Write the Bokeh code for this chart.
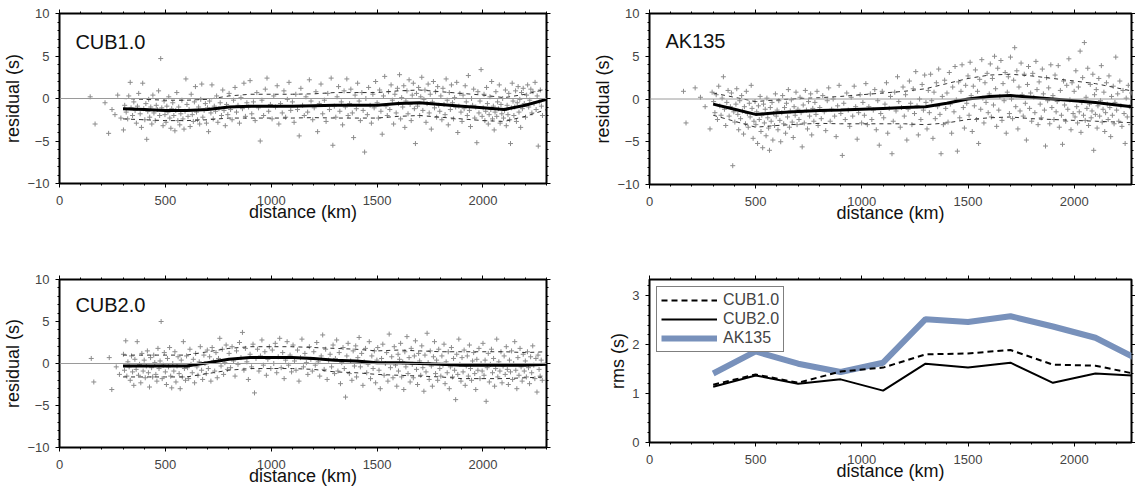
from bokeh.plotting import figure
from bokeh.models import (Range1d, LinearAxis, SingleIntervalTicker, Span, Label,
                          Legend, LegendItem)
from bokeh.layouts import column, row
from bokeh.embed import file_html
from bokeh.resources import INLINE

# ---------------- data ----------------
node_km = [300, 400, 500, 600, 700, 800, 900, 1000, 1100, 1200, 1300,
           1400, 1500, 1600, 1700, 1800, 1900, 2000, 2100, 2200, 2300]

cub1_mean = [-1.2, -1.3, -1.4, -1.4, -1.3, -1.0, -0.9, -0.9, -0.9, -0.85, -0.8,
             -0.8, -0.8, -0.6, -0.5, -0.7, -0.9, -1.1, -1.3, -0.8, -0.1]
cub1_std = [1.2, 1.2, 1.2, 1.2, 1.2, 1.3, 1.4, 1.4, 1.4, 1.4, 1.5,
            1.5, 1.5, 1.5, 1.5, 1.5, 1.5, 1.5, 1.4, 1.3, 1.2]

ak135_mean = [-0.6, -1.2, -1.8, -1.6, -1.45, -1.35, -1.3, -1.2, -1.1, -1.0, -0.9,
              -0.5, 0.0, 0.3, 0.4, 0.2, 0.0, -0.2, -0.4, -0.7, -1.0]
ak135_std = [1.3, 1.4, 1.5, 1.5, 1.5, 1.5, 1.6, 1.7, 1.8, 1.9, 2.1,
             2.3, 2.4, 2.5, 2.5, 2.5, 2.4, 2.3, 2.2, 2.0, 1.8]

cub2_mean = [-0.3, -0.3, -0.3, -0.3, 0.1, 0.5, 0.7, 0.7, 0.7, 0.6, 0.4,
             0.3, 0.1, 0.1, 0.0, -0.1, -0.2, -0.2, -0.2, -0.2, -0.1]
cub2_std = [1.3, 1.3, 1.3, 1.3, 1.3, 1.3, 1.3, 1.3, 1.3, 1.3, 1.4,
            1.4, 1.4, 1.5, 1.5, 1.5, 1.6, 1.6, 1.6, 1.5, 1.5]

rms_km = [300, 500, 700, 900, 1100, 1300, 1500, 1700, 1900, 2100, 2300]
rms_cub1 = [1.18, 1.39, 1.22, 1.45, 1.53, 1.80, 1.82, 1.89, 1.59, 1.57, 1.39]
rms_cub2 = [1.14, 1.37, 1.20, 1.29, 1.06, 1.61, 1.53, 1.63, 1.22, 1.41, 1.36]
rms_ak135 = [1.41, 1.86, 1.61, 1.44, 1.63, 2.52, 2.46, 2.58, 2.37, 2.14, 1.70]

x_ticks_step = 500
model_names = ["CUB1.0", "AK135", "CUB2.0"]

cub1_points = [
    (145, 0.2), (168, -3.0), (215, -0.5), (232, -4.1), (248, -1.3), (262, -1.9), (275, 0.4), (290, -2.3),
    (302, -3.7), (308, -0.8), (315, -1.6), (322, -2.4), (327, 0.3), (334, 1.9), (338, -1.1), (345, -2.0),
    (351, -0.4), (357, -1.4), (363, -2.9), (368, -0.9), (374, 0.6), (381, -1.8), (387, -3.4), (393, 1.8), (398, -1.2),
    (403, -2.5), (408, -0.6), (412, -4.8), (417, -1.5), (421, -0.1), (426, -2.2), (431, -1.0), (436, -3.0),
    (441, 0.4), (446, -1.7), (452, -2.6), (457, -0.8), (462, -1.3), (468, 0.9), (473, -2.0), (478, 4.7),
    (483, -1.1), (489, -3.2), (494, -0.3), (498, -1.9),
    (503, -2.8), (507, -0.9), (512, -1.6), (516, 0.2), (521, -2.3), (526, -3.5), (530, -1.2), (535, -0.5),
    (540, -2.0), (545, -3.8), (549, -1.4), (554, 0.7), (559, -2.6), (563, -1.0), (568, -3.1), (573, -1.8),
    (578, -0.2), (583, -2.4), (588, -3.6), (593, -1.5), (597, 2.3),
    (602, -0.7), (607, -2.1), (612, -1.3), (617, -3.3), (622, 0.5), (627, -1.9), (632, -2.7), (637, -0.4),
    (642, 1.4), (647, -1.6), (652, -2.5), (657, -1.0), (662, -3.0), (667, -0.1), (672, 1.7), (677, -2.2),
    (683, -1.4), (689, -0.6), (694, -2.9), (699, -1.1),
    (704, -3.9), (709, -0.3), (715, -1.7), (720, 1.6), (726, -2.4), (731, -0.9), (737, -1.5), (742, 0.3),
    (748, -2.8), (753, -1.2), (759, -0.5), (765, -2.0), (771, 1.0), (777, -1.4), (783, -3.2), (789, -0.7), (795, -1.9),
    (801, 0.6), (808, -1.3), (815, -2.5), (822, -0.2), (829, 1.3), (836, -1.6), (843, -0.8), (850, -2.9),
    (857, 0.1), (864, -1.2), (871, 1.8), (878, -2.1), (885, -0.5), (893, -1.0),
    (900, 2.1), (908, -1.8), (916, -0.4), (924, -2.6), (932, 0.7), (940, -1.1), (948, -5.0), (956, -0.2),
    (964, -2.0), (972, 1.1), (980, 2.4), (988, -1.5), (996, -0.7),
    (1004, -2.4), (1012, 0.3), (1020, -1.0), (1028, 1.5), (1036, -3.0), (1044, -0.6), (1052, -1.7), (1060, 0.9),
    (1068, -2.2), (1076, -0.1), (1084, 1.9), (1092, -1.4),
    (1100, -0.4), (1108, -2.8), (1116, 0.5), (1124, -1.3), (1132, -4.4), (1140, 1.2), (1148, -0.8), (1156, -2.0),
    (1164, 0.2), (1172, -1.6), (1180, 2.2), (1188, -0.3), (1196, -2.5),
    (1203, -1.1), (1211, 0.8), (1219, -3.9), (1227, -0.6), (1235, 1.7), (1243, -1.8), (1251, -0.2), (1259, -2.7),
    (1267, 0.6), (1275, -1.3), (1283, 2.4), (1291, -5.5), (1298, -0.9),
    (1305, -2.2), (1311, 0.2), (1318, 1.4), (1324, -1.5), (1331, -0.4), (1337, -3.1), (1344, 0.9), (1350, -1.0),
    (1357, 2.3), (1363, -2.0), (1370, -0.6), (1376, 1.1), (1383, -1.7), (1389, -4.6), (1396, 0.4),
    (1402, -1.2), (1408, 1.8), (1415, -0.3), (1421, -2.6), (1428, 0.7), (1434, -1.4), (1441, -6.3), (1447, 0.0),
    (1454, -1.9), (1460, 1.3), (1467, -0.8), (1473, -2.9), (1480, 0.5), (1486, -1.1), (1493, 2.0),
    (1500, -0.5), (1506, -2.3), (1512, 1.0), (1518, -1.5), (1524, -4.2), (1530, 0.3), (1536, 2.6), (1542, -0.9),
    (1548, -2.0), (1554, 0.8), (1560, -1.3), (1566, 1.6), (1572, -0.2), (1578, -3.0), (1584, 0.5), (1590, -1.7), (1596, 1.2),
    (1601, -0.6), (1606, 2.8), (1611, -2.4), (1616, 0.1), (1621, -1.0), (1626, 1.5), (1631, -3.4), (1636, -0.3),
    (1641, 0.9), (1646, -1.8), (1651, 2.2), (1656, -0.7), (1661, -2.6), (1666, 0.4), (1671, 1.8), (1676, -1.2),
    (1681, -5.3), (1686, 0.6), (1691, -0.9), (1696, 1.3),
    (1701, -2.0), (1706, 0.2), (1711, 2.5), (1716, -1.4), (1721, -0.1), (1726, 1.0), (1731, -2.8), (1736, -0.6),
    (1741, 1.7), (1746, -1.7), (1751, 0.5), (1756, -3.6), (1761, -0.4), (1766, 2.0), (1771, -1.1), (1776, 0.8),
    (1781, -2.2), (1786, 1.4), (1791, -0.8), (1796, -1.5),
    (1801, 0.3), (1806, -2.5), (1811, 1.2), (1816, -0.7), (1821, -1.9), (1826, 2.3), (1831, -0.2), (1836, -3.1),
    (1841, 0.7), (1846, -1.3), (1851, 1.6), (1856, -0.5), (1861, -2.4), (1866, 0.1), (1871, -1.0), (1876, 1.9),
    (1881, -4.0), (1886, -0.9), (1891, 0.6), (1896, -1.6),
    (1901, -2.7), (1906, 0.4), (1911, -1.2), (1916, 1.5), (1921, -0.4), (1926, -2.0), (1931, 2.7), (1936, -1.4),
    (1941, -3.3), (1946, 0.0), (1951, -0.8), (1956, 1.1), (1961, -2.3), (1966, -1.0), (1971, -5.2), (1976, 0.8),
    (1981, -1.7), (1986, -0.3), (1991, 3.4), (1996, -2.1),
    (2001, -1.1), (2005, 0.5), (2009, -2.6), (2013, -1.5), (2017, 1.3), (2021, -0.6), (2025, -3.0), (2029, -1.9),
    (2033, 0.2), (2037, -1.3), (2041, 2.0), (2045, -2.4), (2049, -0.9), (2053, -3.7), (2057, -1.6), (2061, 0.8),
    (2065, -2.1), (2069, -0.4), (2073, -1.2), (2077, 1.6), (2081, -2.9), (2085, -0.7), (2089, -1.8), (2093, 0.0), (2097, -2.3),
    (2102, -1.4), (2106, 1.0), (2110, -3.2), (2114, -0.8), (2118, -1.9), (2122, 0.6), (2126, -2.5), (2130, -5.3),
    (2134, -1.1), (2138, 1.8), (2142, -0.3), (2146, -2.0), (2150, -1.0), (2154, 0.9), (2158, -2.7), (2162, -0.5),
    (2166, 1.4), (2170, -1.6), (2174, -0.1), (2178, -3.4), (2182, 0.7), (2186, -1.2), (2190, 1.2), (2195, -0.6),
    (2201, -2.2), (2206, 0.4), (2211, 1.6), (2216, -1.0), (2221, -0.2), (2226, 1.1), (2231, -1.7), (2236, 0.8),
    (2241, -0.6), (2246, 1.9), (2251, -1.3), (2256, 0.3), (2261, -5.6), (2266, -0.4), (2271, 1.0), (2276, -0.9), (2281, -2.0),
]

ak135_points = [
    (160, 0.9), (172, -2.8), (215, 1.3), (240, 0.2), (262, -0.9), (285, -3.5), (295, 0.8),
    (302, -0.3), (308, -1.6), (314, 0.5), (320, -2.4), (326, 1.5), (331, -0.8), (337, -1.9), (342, 0.1),
    (348, 2.6), (353, -1.2), (359, -3.1), (364, -0.4), (370, 1.0), (375, -2.0), (381, -0.9), (386, 0.7),
    (392, -7.8), (397, -1.5),
    (402, -2.7), (407, -0.6), (411, 1.2), (416, -1.8), (420, -3.6), (425, -0.2), (429, -2.3), (434, 0.4),
    (438, -1.4), (443, -4.1), (447, -0.9), (452, -2.9), (456, 0.9), (461, -1.7), (465, -3.3), (470, -0.5),
    (474, -2.1), (479, 1.6), (483, -1.1), (488, -4.6), (492, -2.6), (497, -0.3),
    (501, -3.0), (505, -1.5), (509, -5.2), (513, -0.8), (517, -2.4), (521, 0.3), (525, -3.8), (529, -1.9),
    (533, -5.7), (537, -0.6), (541, -2.8), (545, -1.2), (549, -4.3), (553, 0.1), (557, -2.2), (561, -3.4),
    (565, -6.0), (569, -1.0), (573, -2.6), (577, -0.4), (581, -4.8), (585, -1.7), (589, -3.1), (593, 0.6), (597, -2.0),
    (601, -1.3), (605, -3.6), (609, -0.2), (614, -2.5), (618, -5.0), (623, -1.6), (627, 0.4), (632, -2.9),
    (636, -1.0), (641, -4.0), (645, -0.5), (650, -2.1), (654, 1.1), (659, -3.3), (663, -1.4), (668, -0.1),
    (672, -2.7), (677, -4.5), (681, -0.9), (686, -1.9), (690, 0.8), (695, -3.0), (699, -1.2),
    (704, -2.4), (709, 0.2), (714, -1.6), (719, -5.6), (724, -0.7), (729, -2.8), (734, 1.0), (739, -1.3),
    (744, -3.5), (749, -0.3), (754, -2.0), (759, 0.6), (764, -4.2), (769, -1.1), (774, -2.6), (779, -0.4),
    (784, -1.8), (789, 0.9), (794, -3.1),
    (802, -1.0), (809, -2.3), (816, 0.4), (823, -1.5), (830, -3.7), (837, -0.2), (844, 1.3), (851, -2.6),
    (858, -1.2), (865, 0.0), (872, -2.0), (879, -4.4), (886, -0.8), (893, 1.6),
    (901, -1.7), (908, -6.6), (915, -0.5), (922, -2.4), (929, 0.7), (936, -1.3), (943, -3.2), (950, 0.2),
    (957, -2.0), (964, 1.5), (971, -0.9), (978, -4.7), (985, -1.6), (992, 0.5), (999, -2.8),
    (1005, -0.4), (1012, -1.9), (1019, 1.8), (1026, -3.0), (1033, -0.9), (1040, 0.6), (1047, -2.4), (1054, -1.3),
    (1061, 1.1), (1068, -3.6), (1075, -0.2), (1082, -5.4), (1089, -1.7), (1096, 0.9),
    (1103, -2.2), (1109, -0.6), (1116, 1.9), (1122, -4.0), (1129, -1.1), (1135, 0.3), (1142, -6.4), (1148, -2.6),
    (1155, 0.8), (1161, -1.4), (1168, 2.6), (1174, -0.3), (1181, -3.3), (1187, -1.0), (1194, 1.4),
    (1200, -2.0), (1206, 0.5), (1212, -4.8), (1218, -1.2), (1224, 2.1), (1230, -0.5), (1236, -3.0), (1242, 1.2),
    (1248, -1.7), (1254, 3.2), (1260, -0.8), (1266, -4.2), (1272, 0.0), (1278, -2.4), (1284, 1.7), (1290, -1.3), (1296, 2.8),
    (1302, -0.4), (1307, -3.5), (1313, 1.0), (1318, -1.6), (1324, 2.9), (1329, -0.2), (1335, -4.6), (1340, 0.8),
    (1346, -2.3), (1351, 1.9), (1357, -0.9), (1362, 3.5), (1368, -1.8), (1373, -6.4), (1379, 0.3), (1384, -3.0),
    (1390, 2.2), (1395, -1.1),
    (1401, 0.7), (1406, -2.7), (1412, 3.1), (1417, -0.6), (1423, -4.0), (1428, 1.4), (1434, -1.5), (1439, 3.8),
    (1445, -0.1), (1450, -6.1), (1456, 2.0), (1461, -2.2), (1467, 0.9), (1472, 4.0), (1478, -1.0), (1483, -3.4),
    (1489, 1.6), (1494, -0.5),
    (1500, 2.7), (1505, -1.9), (1510, 4.3), (1515, 0.4), (1520, -3.8), (1525, 1.5), (1530, -0.8), (1535, 3.4),
    (1540, -2.4), (1545, 0.9), (1550, -5.2), (1555, 2.3), (1560, -1.2), (1565, 4.6), (1570, 0.1), (1575, -2.8),
    (1580, 1.9), (1585, -0.4), (1590, 3.0), (1595, -1.6),
    (1600, 0.6), (1605, 4.1), (1610, -2.1), (1615, 2.4), (1620, -0.7), (1625, 5.0), (1630, 1.2), (1635, -3.2),
    (1640, 3.6), (1645, -1.3), (1650, 0.3), (1655, 4.5), (1660, -2.5), (1665, 1.8), (1670, -0.2), (1675, 3.1),
    (1680, -4.0), (1685, 0.8), (1690, 2.6), (1695, -1.7),
    (1700, 4.9), (1705, 0.0), (1710, -2.3), (1715, 2.2), (1720, 6.0), (1725, -0.9), (1730, 3.3), (1735, -3.5),
    (1740, 1.4), (1745, -1.4), (1750, 4.2), (1755, 0.5), (1760, -2.0), (1765, 2.9), (1770, -0.5), (1775, -4.8),
    (1780, 1.7), (1785, 3.8), (1790, -1.1), (1795, 0.7),
    (1800, -2.6), (1805, 3.0), (1810, 0.2), (1815, -1.6), (1820, 4.4), (1825, 1.1), (1830, -3.0), (1835, 2.0),
    (1840, -0.6), (1845, -2.2), (1850, 3.5), (1855, 0.6), (1860, -1.3), (1865, -5.5), (1870, 2.5), (1875, -0.2),
    (1880, 1.3), (1885, -2.9), (1890, 4.0), (1895, -1.0),
    (1900, 0.4), (1905, -2.4), (1910, 2.8), (1915, -1.5), (1920, -0.3), (1925, 3.9), (1930, -3.3), (1935, 1.0),
    (1940, -1.9), (1945, -5.3), (1950, 2.1), (1955, -0.7), (1960, -2.6), (1965, 1.6), (1970, -1.2), (1975, 4.7),
    (1980, -0.1), (1985, -3.6), (1990, 1.9), (1995, -1.7),
    (2000, 0.9), (2004, -2.1), (2008, 3.3), (2012, -0.9), (2016, -2.8), (2020, 1.4), (2024, -1.5), (2028, 5.6),
    (2032, -3.9), (2036, -0.4), (2040, 2.5), (2044, -1.9), (2048, 6.6), (2052, -2.5), (2056, 0.2), (2060, -1.1),
    (2064, 3.6), (2068, -3.1), (2072, -0.6), (2076, 1.7), (2080, -2.2), (2084, -1.4), (2088, 2.9), (2092, -6.0), (2096, 0.5),
    (2100, -1.8), (2104, 1.1), (2108, -3.4), (2112, -0.8), (2116, 2.4), (2120, -2.0), (2124, -0.2), (2128, 3.9),
    (2132, -2.7), (2136, -1.2), (2140, 0.8), (2144, -3.8), (2148, -1.6), (2152, 1.9), (2156, -0.6), (2160, -2.4),
    (2164, 2.7), (2168, -1.0), (2172, -4.4), (2176, 0.3), (2180, -1.9), (2184, 1.5), (2188, -2.9), (2192, -0.4), (2196, 4.9),
    (2200, -1.3), (2205, 0.6), (2210, -2.6), (2215, 2.1), (2220, -0.8), (2225, -3.2), (2230, 1.0), (2235, -1.7),
    (2240, -5.2), (2245, 0.1), (2250, -2.1), (2255, 1.6), (2260, -0.9), (2265, -3.0), (2270, 0.7),
]

cub2_points = [
    (150, 0.6), (162, -2.2), (235, 0.7), (247, -3.1), (268, -0.4), (283, -1.3),
    (302, 1.1), (307, -0.8), (313, 2.7), (318, -1.5), (323, 0.2), (329, -0.4), (334, -2.0), (340, 0.9),
    (345, -1.0), (351, -2.6), (356, 0.5), (362, -0.7), (367, 2.6), (373, -1.4), (378, -0.1), (384, -2.3),
    (389, 1.2), (395, -0.9),
    (400, 0.4), (405, -1.7), (410, -0.3), (415, 1.5), (420, -1.1), (425, -2.8), (430, 0.7), (435, -0.5),
    (440, -1.6), (445, 1.0), (450, 0.1), (455, -1.3), (460, -2.1), (465, 1.8), (470, -0.6), (475, 0.3),
    (480, 5.0), (485, -1.8), (490, -0.2), (495, 1.3),
    (500, -1.0), (505, -2.5), (510, 0.6), (515, -0.4), (520, 1.9), (525, -1.5), (530, -2.9), (535, 0.0),
    (540, -0.9), (545, 1.4), (550, -2.2), (555, -0.3), (560, 0.8), (565, -1.2), (570, -3.0), (575, 0.4),
    (580, -1.6), (585, 2.6), (590, -0.6), (595, -2.0),
    (600, 0.9), (605, -0.5), (610, -1.8), (616, 1.7), (621, -0.1), (627, -1.1), (632, 0.5), (638, -2.3),
    (643, 1.2), (649, -0.4), (654, -1.4), (660, 0.2), (665, 2.0), (671, -0.8), (676, -1.9), (682, 1.0),
    (687, 0.0), (693, -1.2), (698, 1.6),
    (703, -0.6), (709, 0.8), (715, -2.1), (721, 1.9), (727, 0.3), (733, -0.9), (739, 1.3), (745, -1.7),
    (751, 0.6), (757, 3.0), (763, -0.3), (769, 1.7), (775, -1.3), (781, 0.1), (787, 2.2), (793, -0.7),
    (801, 1.2), (808, -0.5), (815, 2.0), (822, 0.3), (829, -1.5), (836, 1.5), (843, -0.1), (850, 2.5),
    (857, 0.7), (864, 3.7), (871, -0.8), (878, 1.8), (885, 0.2), (892, -1.9),
    (900, 1.1), (907, -0.4), (914, 2.3), (921, -3.5), (928, 0.6), (935, 1.7), (942, -0.9), (949, 0.9),
    (956, 2.8), (963, -0.2), (970, 1.4), (977, -1.4), (984, 0.5), (991, 2.0), (998, -0.6),
    (1005, 1.6), (1012, 0.0), (1019, 2.4), (1026, -1.1), (1033, 0.8), (1040, 3.0), (1047, -0.5), (1054, 1.3),
    (1061, -1.8), (1068, 0.4), (1075, 2.6), (1082, -0.2), (1089, 1.0), (1096, -1.0),
    (1103, 2.2), (1110, 0.3), (1117, -0.8), (1124, 1.6), (1131, -2.1), (1138, 0.7), (1145, 2.9), (1152, -0.4),
    (1159, 1.2), (1166, 0.1), (1173, -1.3), (1180, 2.0), (1187, 0.5), (1194, -0.9),
    (1201, 1.4), (1208, -0.2), (1215, 2.5), (1222, 0.2), (1229, -1.5), (1236, 0.9), (1243, 3.4), (1250, -0.7),
    (1257, 1.7), (1264, -1.9), (1271, 0.4), (1278, 1.1), (1285, -0.4), (1292, 2.2), (1299, -1.2),
    (1303, 0.6), (1309, 2.8), (1315, -0.9), (1321, 1.3), (1327, -2.4), (1333, 0.1), (1339, 1.9), (1345, -0.6),
    (1351, -4.0), (1357, 0.9), (1363, 2.4), (1369, -1.2), (1375, 0.3), (1381, -2.0), (1387, 1.5), (1393, -0.3), (1399, 2.1),
    (1403, -1.6), (1409, 0.7), (1415, 3.1), (1421, -0.4), (1427, 1.2), (1433, -2.6), (1439, 0.2), (1445, 1.8),
    (1451, -1.1), (1457, -0.1), (1463, 2.6), (1469, -1.8), (1475, 0.9), (1481, -0.6), (1487, 1.5), (1493, -2.3), (1499, 0.4),
    (1503, 1.9), (1509, -0.8), (1515, -3.0), (1521, 0.6), (1527, 2.3), (1533, -1.4), (1539, 0.0), (1545, 1.3),
    (1551, -2.1), (1557, 3.5), (1563, -0.5), (1569, 0.8), (1575, -1.7), (1581, 2.0), (1587, -0.2), (1593, -2.7), (1599, 1.1),
    (1601, -0.9), (1606, 0.5), (1611, 2.4), (1616, -1.6), (1621, 0.2), (1626, -3.1), (1631, 1.4), (1636, -0.4),
    (1641, 3.2), (1646, -1.2), (1651, 0.7), (1656, -2.2), (1661, 1.8), (1666, -0.1), (1671, -1.7), (1676, 0.9),
    (1681, 2.7), (1686, -0.7), (1691, -2.5), (1696, 1.2),
    (1701, 0.3), (1706, -1.4), (1711, 2.1), (1716, -0.5), (1721, -3.3), (1726, 1.0), (1731, -1.0), (1736, 3.6),
    (1741, 0.1), (1746, -1.9), (1751, 1.5), (1756, -0.3), (1761, -2.7), (1766, 0.8), (1771, 2.6), (1776, -1.2),
    (1781, 0.4), (1786, -2.0), (1791, 1.7), (1796, -0.6),
    (1801, -1.5), (1806, 0.9), (1811, -0.2), (1816, 2.3), (1821, -2.4), (1826, 0.2), (1831, -1.1), (1836, 1.4),
    (1841, -3.0), (1846, -0.4), (1851, 1.9), (1856, -1.6), (1861, 0.6), (1866, -0.8), (1871, -4.3), (1876, 1.1),
    (1881, -1.3), (1886, 2.9), (1891, -0.1), (1896, -2.1),
    (1901, 0.7), (1906, -1.0), (1911, 1.6), (1916, -2.6), (1921, -0.3), (1926, 0.9), (1931, -1.5), (1936, 2.2),
    (1941, -0.6), (1946, -2.0), (1951, 0.3), (1956, 1.3), (1961, -1.2), (1966, -3.1), (1971, 0.5), (1976, -0.8),
    (1981, 1.8), (1986, -1.8), (1991, 0.0), (1996, -0.9),
    (2000, 2.4), (2005, -1.4), (2010, 0.4), (2015, -4.5), (2020, -0.5), (2025, 1.2), (2030, -2.2), (2035, -0.1),
    (2040, 1.7), (2045, -1.1), (2050, 0.6), (2055, -2.7), (2060, -0.6), (2065, 2.9), (2070, -1.6), (2075, 0.2),
    (2080, -0.9), (2085, 1.4), (2090, -2.3), (2095, -0.3),
    (2100, 0.9), (2105, -1.3), (2110, 2.0), (2115, -0.7), (2120, -2.5), (2125, 0.4), (2130, -1.0), (2135, 1.5),
    (2140, -1.9), (2145, 0.0), (2150, 2.6), (2155, -0.8), (2160, -3.0), (2165, 0.7), (2170, -1.4), (2175, 1.8),
    (2180, -0.4), (2185, -2.1), (2190, 1.1), (2195, -0.9),
    (2200, 0.3), (2205, -1.6), (2210, 1.4), (2215, -0.5), (2220, -2.4), (2225, 0.8), (2230, -1.1), (2235, 2.1),
    (2240, -0.2), (2245, -1.8), (2250, 0.6), (2255, -3.4), (2260, 1.0), (2265, -0.7), (2270, -1.5), (2275, 0.4), (2280, -2.0),
]

# ---------------- styling ----------------
FONT = "Liberation Sans"
PT_COLOR = "#8c8c8c"
BLUE = "#7891bb"


def style_axis(ax, labels=True):
    ax.axis_line_color = None
    ax.major_tick_line_color = "black"
    ax.minor_tick_line_color = "black"
    ax.major_tick_out = 4
    ax.major_tick_in = 0
    ax.minor_tick_out = 2
    ax.minor_tick_in = 0
    ax.major_label_text_font = FONT
    ax.axis_label_text_font = FONT
    ax.axis_label_text_font_size = "18px"
    ax.axis_label_text_font_style = "normal"
    ax.axis_label_text_color = "#111111"
    if labels:
        ax.major_label_text_font_size = "13px"
        ax.major_label_text_color = "#444444"
        ax.major_label_standoff = 8
    else:
        ax.major_label_text_font_size = "0px"
        ax.major_label_text_color = None
        ax.major_label_standoff = 0


def make_fig(x_end, y_start, y_end, y_step, fw, fh, bl, br, bt, bb, ylabel):
    p = figure(frame_width=fw, frame_height=fh, output_backend="svg",
               toolbar_location=None, x_range=Range1d(0, x_end),
               y_range=Range1d(y_start, y_end),
               min_border_left=bl, min_border_right=br,
               min_border_top=bt, min_border_bottom=bb)
    p.grid.visible = False
    p.outline_line_color = "black"
    p.outline_line_width = 2
    p.background_fill_color = "white"
    p.border_fill_color = "white"
    p.xaxis.ticker = SingleIntervalTicker(interval=x_ticks_step, num_minor_ticks=5)
    p.yaxis.ticker = SingleIntervalTicker(interval=y_step, num_minor_ticks=5)
    p.xaxis.axis_label = "distance (km)"
    p.yaxis.axis_label = ylabel
    style_axis(p.xaxis[0])
    style_axis(p.yaxis[0])
    p.yaxis.major_label_standoff = 6
    p.xaxis.axis_label_standoff = -6
    p.yaxis.axis_label_standoff = 1
    top = LinearAxis(ticker=SingleIntervalTicker(interval=x_ticks_step, num_minor_ticks=5))
    right = LinearAxis(ticker=SingleIntervalTicker(interval=y_step, num_minor_ticks=5))
    style_axis(top, labels=False)
    style_axis(right, labels=False)
    p.add_layout(top, "above")
    p.add_layout(right, "right")
    return p


def residual_panel(name, points, mean, std, x_end, fw, fh, bl, br, bt, bb, label_y):
    p = make_fig(x_end, -10, 10, 5, fw, fh, bl, br, bt, bb, "residual (s)")
    p.add_layout(Span(location=0, dimension="width", line_color="#9a9a9a", line_width=1))
    xs = [pt[0] for pt in points]
    ys = [pt[1] for pt in points]
    p.scatter(xs, ys, marker="cross", size=5, line_color=PT_COLOR, line_width=1)
    upper = [m + s for m, s in zip(mean, std)]
    lower = [m - s for m, s in zip(mean, std)]
    p.line(node_km, upper, line_color="#333333", line_width=1, line_dash="4 4")
    p.line(node_km, lower, line_color="#333333", line_width=1, line_dash="4 4")
    p.line(node_km, mean, line_color="black", line_width=3)
    p.add_layout(Label(x=75, y=label_y, text=name, text_font=FONT, text_font_size="20px",
                       text_baseline="middle", text_color="#111111"))
    return p


p1 = residual_panel("CUB1.0", cub1_points, cub1_mean, cub1_std, 2300,
                    487, 170, 55, 30, 13, 46, 6.7)
p2 = residual_panel("AK135", ak135_points, ak135_mean, ak135_std, 2270,
                    482, 171, 73, 4, 12, 46, 6.8)
p3 = residual_panel("CUB2.0", cub2_points, cub2_mean, cub2_std, 2300,
                    487, 168, 55, 30, 50, 40, 7.0)

p4 = make_fig(2270, 0, 3.33, 1, 482, 163, 73, 4, 46, 49, "rms (s)")
r_ak = p4.line(rms_km, rms_ak135, line_color=BLUE, line_width=6)
r_c1 = p4.line(rms_km, rms_cub1, line_color="black", line_width=2, line_dash="6 4")
r_c2 = p4.line(rms_km, rms_cub2, line_color="black", line_width=2)
legend = Legend(items=[LegendItem(label="CUB1.0", renderers=[r_c1]),
                       LegendItem(label="CUB2.0", renderers=[r_c2]),
                       LegendItem(label="AK135", renderers=[r_ak])],
                location="top_left")
legend.margin = 7
legend.padding = 4
legend.spacing = 1
legend.glyph_width = 56
legend.glyph_height = 18
legend.label_height = 18
legend.label_standoff = 6
legend.label_text_font = FONT
legend.label_text_font_size = "16px"
legend.border_line_color = "black"
legend.border_line_width = 1
legend.background_fill_alpha = 1
p4.add_layout(legend)

layout = column(row(p1, p2), row(p3, p4))
open("out.html", "w").write(file_html(layout, INLINE))
